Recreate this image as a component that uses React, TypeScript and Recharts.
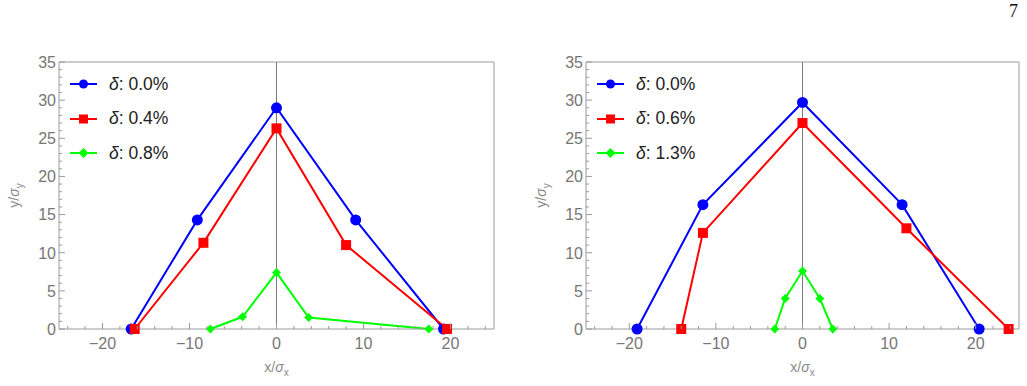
import React from "react";
import { LineChart, Line, XAxis, YAxis, ReferenceLine, Legend, Label } from "recharts";

// axis ticks (major labelled, minor unlabelled)
const X_TICKS = [-20, -10, 0, 10, 20];
const Y_TICKS = [0, 5, 10, 15, 20, 25, 30, 35];
const X_MINOR = [-24, -22, -20, -18, -16, -14, -12, -10, -8, -6, -4, -2, 0, 2, 4, 6, 8, 10, 12, 14, 16, 18, 20, 22, 24];
const Y_MINOR = [0, 1, 2, 3, 4, 5, 6, 7, 8, 9, 10, 11, 12, 13, 14, 15, 16, 17, 18, 19, 20, 21, 22, 23, 24, 25, 26, 27, 28, 29, 30, 31, 32, 33, 34, 35];

// left panel
const LEFT_DELTAS = ["0.0%", "0.4%", "0.8%"];
const LEFT_BLUE = [
  { x: -16.7, y: 0 }, { x: -9.1, y: 14.3 }, { x: 0, y: 29.0 }, { x: 9.1, y: 14.3 }, { x: 19.2, y: 0 },
];
const LEFT_RED = [
  { x: -16.3, y: 0 }, { x: -8.4, y: 11.3 }, { x: 0, y: 26.3 }, { x: 8.0, y: 11.0 }, { x: 19.6, y: 0 },
];
const LEFT_GREEN = [
  { x: -7.6, y: 0 }, { x: -3.9, y: 1.6 }, { x: 0, y: 7.4 }, { x: 3.7, y: 1.5 }, { x: 17.5, y: 0 },
];

// right panel
const RIGHT_DELTAS = ["0.0%", "0.6%", "1.3%"];
const RIGHT_BLUE = [
  { x: -19.1, y: 0 }, { x: -11.5, y: 16.3 }, { x: 0, y: 29.7 }, { x: 11.5, y: 16.3 }, { x: 20.4, y: 0 },
];
const RIGHT_RED = [
  { x: -14.0, y: 0 }, { x: -11.5, y: 12.6 }, { x: 0, y: 27.0 }, { x: 12.0, y: 13.2 }, { x: 23.8, y: 0 },
];
const RIGHT_GREEN = [
  { x: -3.2, y: 0 }, { x: -2.0, y: 4.0 }, { x: 0, y: 7.6 }, { x: 2.0, y: 4.0 }, { x: 3.5, y: 0 },
];

const FONT = "'Liberation Sans', Arial, sans-serif";
const FRAME = "#9a9a9a";
const TICK_TEXT = "#767676";
const TITLE_TEXT = "#8a8a8a";
const BLUE = "#0000ff";
const RED = "#ff0000";
const GREEN = "#00ff00";

type Shape = "circle" | "square" | "diamond";

function marker(shape: Shape, cx: number, cy: number, color: string, s: number, key?: any) {
  if (shape === "circle") return <circle key={key} cx={cx} cy={cy} r={s} fill={color} />;
  if (shape === "square")
    return <rect key={key} x={cx - s} y={cy - s} width={2 * s} height={2 * s} fill={color} />;
  return (
    <polygon key={key} points={`${cx},${cy - s} ${cx + s},${cy} ${cx},${cy + s} ${cx - s},${cy}`} fill={color} />
  );
}

const fmt = (v: number) => (v < 0 ? `\u2212${-v}` : `${v}`);

// frame ticks point inward; only the major ones carry a label
const bottomTick = (p: any) => {
  const v = p.payload.value;
  const major = X_TICKS.includes(v);
  return (
    <g>
      <line x1={p.x} x2={p.x} y1={p.y} y2={p.y - (major ? 6 : 3)} stroke={FRAME} />
      {major && (
        <text x={p.x} y={p.y + 19.5} textAnchor="middle" fontSize={16} fill={TICK_TEXT} fontFamily={FONT}>
          {fmt(v)}
        </text>
      )}
    </g>
  );
};
const topTick = (p: any) => {
  const major = X_TICKS.includes(p.payload.value);
  return <line x1={p.x} x2={p.x} y1={p.y} y2={p.y + (major ? 6 : 3)} stroke={FRAME} />;
};
const leftTick = (p: any) => {
  const v = p.payload.value;
  const major = Y_TICKS.includes(v);
  return (
    <g>
      <line x1={p.x} x2={p.x + (major ? 6 : 3)} y1={p.y} y2={p.y} stroke={FRAME} />
      {major && (
        <text x={p.x - 3} y={p.y + 5.8} textAnchor="end" fontSize={16} fill={TICK_TEXT} fontFamily={FONT}>
          {fmt(v)}
        </text>
      )}
    </g>
  );
};
const rightTick = (p: any) => {
  const major = Y_TICKS.includes(p.payload.value);
  return <line x1={p.x} x2={p.x - (major ? 6 : 3)} y1={p.y} y2={p.y} stroke={FRAME} />;
};

const xTitle = ({ viewBox }: any) => (
  <text x={viewBox.x + viewBox.width / 2} y={viewBox.y + 43} textAnchor="middle" fontSize={14} fill={TITLE_TEXT} fontFamily={FONT}>
    <tspan>x/</tspan>
    <tspan fontStyle="italic">σ</tspan>
    <tspan fontSize={10} dy={4}>x</tspan>
  </text>
);
const yTitle = ({ viewBox }: any) => {
  const cx = viewBox.x + viewBox.width - 40;
  const cy = viewBox.y + viewBox.height / 2;
  return (
    <text x={cx} y={cy} textAnchor="middle" transform={`rotate(-90 ${cx} ${cy})`} fontSize={14} fill={TITLE_TEXT} fontFamily={FONT}>
      <tspan>y/</tspan>
      <tspan fontStyle="italic">σ</tspan>
      <tspan fontSize={10} dy={4}>y</tspan>
    </text>
  );
};

interface Series {
  data: { x: number; y: number }[];
  color: string;
  shape: Shape;
  size: number;
  delta: string;
}

function DeltaLegend({ series }: { series: Series[] }) {
  return (
    <div style={{ fontFamily: FONT, fontSize: 17.5, color: "#222" }}>
      {series.map((s) => (
        <div key={s.delta} style={{ display: "flex", alignItems: "center", height: 34.5 }}>
          <svg width={27} height={14}>
            <line x1={0} x2={27} y1={7} y2={7} stroke={s.color} strokeWidth={2} />
            {marker(s.shape, 13.5, 7, s.color, s.shape === "diamond" ? 5 : 4.5)}
          </svg>
          <span style={{ marginLeft: 12, whiteSpace: "nowrap" }}>
            <i>δ</i>: {s.delta}
          </span>
        </div>
      ))}
    </div>
  );
}

// plot box: left edge at plotLeft, right edge at 513 - plotRight, top 62, bottom 329
function Panel({ series, left, plotLeft, plotRight }: { series: Series[]; left: number; plotLeft: number; plotRight: number }) {
  const yAxisW = 50;
  const rightAxisW = 4;
  return (
    <div style={{ position: "absolute", left, top: 0 }}>
      <LineChart width={513} height={386}
        margin={{ top: 52, right: plotRight - rightAxisW, bottom: 7, left: plotLeft - yAxisW }}>
        <XAxis dataKey="x" type="number" domain={[-25, 25]} ticks={X_MINOR} interval={0} height={50}
          tickSize={0} tickMargin={0} tickLine={false} axisLine={{ stroke: FRAME }} tick={bottomTick}>
          <Label content={xTitle} />
        </XAxis>
        <XAxis xAxisId="top" orientation="top" type="number" domain={[-25, 25]} ticks={X_MINOR} interval={0} height={10}
          tickSize={0} tickMargin={0} tickLine={false} axisLine={{ stroke: FRAME }} tick={topTick} />
        <YAxis type="number" domain={[0, 35]} ticks={Y_MINOR} interval={0} width={yAxisW}
          tickSize={0} tickMargin={0} tickLine={false} axisLine={{ stroke: FRAME }} tick={leftTick}>
          <Label content={yTitle} />
        </YAxis>
        <YAxis yAxisId="right" orientation="right" type="number" domain={[0, 35]} ticks={Y_MINOR} interval={0} width={rightAxisW}
          tickSize={0} tickMargin={0} tickLine={false} axisLine={{ stroke: FRAME }} tick={rightTick} />
        <ReferenceLine x={0} stroke="#7a7a7a" strokeWidth={1} />
        {series.map((s) => (
          <Line
            key={s.delta + s.color}
            data={s.data}
            dataKey="y"
            name={`δ: ${s.delta}`}
            type="linear"
            stroke={s.color}
            strokeWidth={2}
            isAnimationActive={false}
            dot={(p: any) => marker(s.shape, p.cx, p.cy, s.color, s.size, p.index)}
            activeDot={false}
          />
        ))}
        <Legend
          layout="vertical"
          align="center"
          verticalAlign="middle"
          wrapperStyle={{ left: plotLeft + 11, top: 66.75, width: 150, height: 110 }}
          content={() => <DeltaLegend series={series} />}
        />
      </LineChart>
    </div>
  );
}

const leftSeries: Series[] = [
  { data: LEFT_BLUE, color: BLUE, shape: "circle", size: 5.5, delta: LEFT_DELTAS[0] },
  { data: LEFT_RED, color: RED, shape: "square", size: 5, delta: LEFT_DELTAS[1] },
  { data: LEFT_GREEN, color: GREEN, shape: "diamond", size: 4.5, delta: LEFT_DELTAS[2] },
];
const rightSeries: Series[] = [
  { data: RIGHT_BLUE, color: BLUE, shape: "circle", size: 5.5, delta: RIGHT_DELTAS[0] },
  { data: RIGHT_RED, color: RED, shape: "square", size: 5, delta: RIGHT_DELTAS[1] },
  { data: RIGHT_GREEN, color: GREEN, shape: "diamond", size: 4.5, delta: RIGHT_DELTAS[2] },
];

export default function App() {
  return (
    <div style={{ position: "absolute", left: 0, top: 0, width: 1027, height: 386, background: "#fff", overflow: "hidden" }}>
      <div style={{ position: "absolute", left: 1009, top: 1, fontFamily: "'Liberation Serif', 'DejaVu Serif', serif", fontSize: 18, color: "#111" }}>
        7
      </div>
      <Panel series={leftSeries} left={0} plotLeft={59} plotRight={19} />
      <Panel series={rightSeries} left={514} plotLeft={72} plotRight={8} />
    </div>
  );
}
